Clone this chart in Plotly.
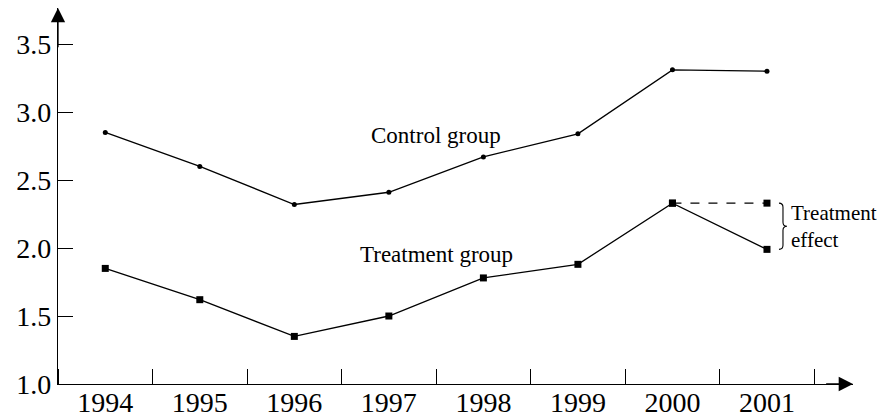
import plotly.graph_objects as go

years = [1994, 1995, 1996, 1997, 1998, 1999, 2000, 2001]
control = [2.85, 2.60, 2.32, 2.41, 2.67, 2.84, 3.31, 3.30]
treatment = [1.85, 1.62, 1.35, 1.50, 1.78, 1.88, 2.33, 1.99]
counterfactual_years = [2000, 2001]
counterfactual = [2.33, 2.33]
y_ticks = [1.0, 1.5, 2.0, 2.5, 3.0, 3.5]

FONT = "Liberation Serif"
x_range = [1993.5, 2001.91]
y_range = [1.0, 3.765]

fig = go.Figure()
fig.add_trace(go.Scatter(x=years, y=control, mode="lines+markers",
                         line=dict(color="black", width=1.3),
                         marker=dict(symbol="circle", size=5, color="black")))
fig.add_trace(go.Scatter(x=years, y=treatment, mode="lines+markers",
                         line=dict(color="black", width=1.3),
                         marker=dict(symbol="square", size=7, color="black")))
fig.add_trace(go.Scatter(x=counterfactual_years, y=counterfactual, mode="lines+markers",
                         line=dict(color="black", width=1.3, dash="dash"),
                         marker=dict(symbol="square", size=7, color="black")))

# brace for treatment effect
y_hi = counterfactual[-1]
y_lo = treatment[-1]
ym = (y_hi + y_lo) / 2
d = 0.03
brace = (f"M 12,{y_hi} Q 16,{y_hi} 16,{y_hi - d} L 16,{ym + d} Q 16,{ym} 20,{ym} "
         f"Q 16,{ym} 16,{ym - d} L 16,{y_lo + d} Q 16,{y_lo} 12,{y_lo}")
fig.add_shape(type="path", xref="x", yref="y", xsizemode="pixel", xanchor=years[-1],
              path=brace, line=dict(color="black", width=1.1))

fig.add_annotation(x=1997.5, y=2.83, text="Control group", showarrow=False,
                   font=dict(family=FONT, size=23, color="black"))
fig.add_annotation(x=1997.5, y=1.95, text="Treatment group", showarrow=False,
                   font=dict(family=FONT, size=23, color="black"))
fig.add_annotation(x=years[-1], y=ym, text="Treatment<br>effect", showarrow=False,
                   xanchor="left", xshift=22, align="left",
                   font=dict(family=FONT, size=21, color="black"))

# axis arrowheads
fig.add_annotation(x=x_range[1], y=y_range[0], ax=x_range[1] - 0.3, ay=y_range[0],
                   xref="x", yref="y", axref="x", ayref="y", text="",
                   showarrow=True, arrowhead=2, arrowsize=2.2, arrowwidth=1.3, arrowcolor="black")
fig.add_annotation(x=x_range[0], y=y_range[1], ax=x_range[0], ay=y_range[1] - 0.3,
                   xref="x", yref="y", axref="x", ayref="y", text="",
                   showarrow=True, arrowhead=2, arrowsize=2.2, arrowwidth=1.3, arrowcolor="black")

fig.update_layout(
    width=888, height=411,
    margin=dict(l=50, r=43, t=0, b=35),
    paper_bgcolor="white", plot_bgcolor="white",
    showlegend=False,
    font=dict(family=FONT, size=28, color="black"),
    xaxis=dict(range=x_range, tickvals=years, ticktext=[str(y) for y in years],
               ticks="", showgrid=False, zeroline=False, automargin=False,
               ticklabelstandoff=-7,
               showline=True, linecolor="black", linewidth=1.3,
               minor=dict(tick0=1994.5, dtick=1, ticks="inside", ticklen=15,
                          tickcolor="black", tickwidth=1.1, showgrid=False)),
    yaxis=dict(range=y_range, tickvals=y_ticks, ticktext=[f"{v:.1f}" for v in y_ticks],
               ticks="inside", ticklen=15, tickcolor="black", tickwidth=1.1,
               showgrid=False, zeroline=False, automargin=False,
               showline=True, linecolor="black", linewidth=1.3),
)

fig.write_html("out.html")
